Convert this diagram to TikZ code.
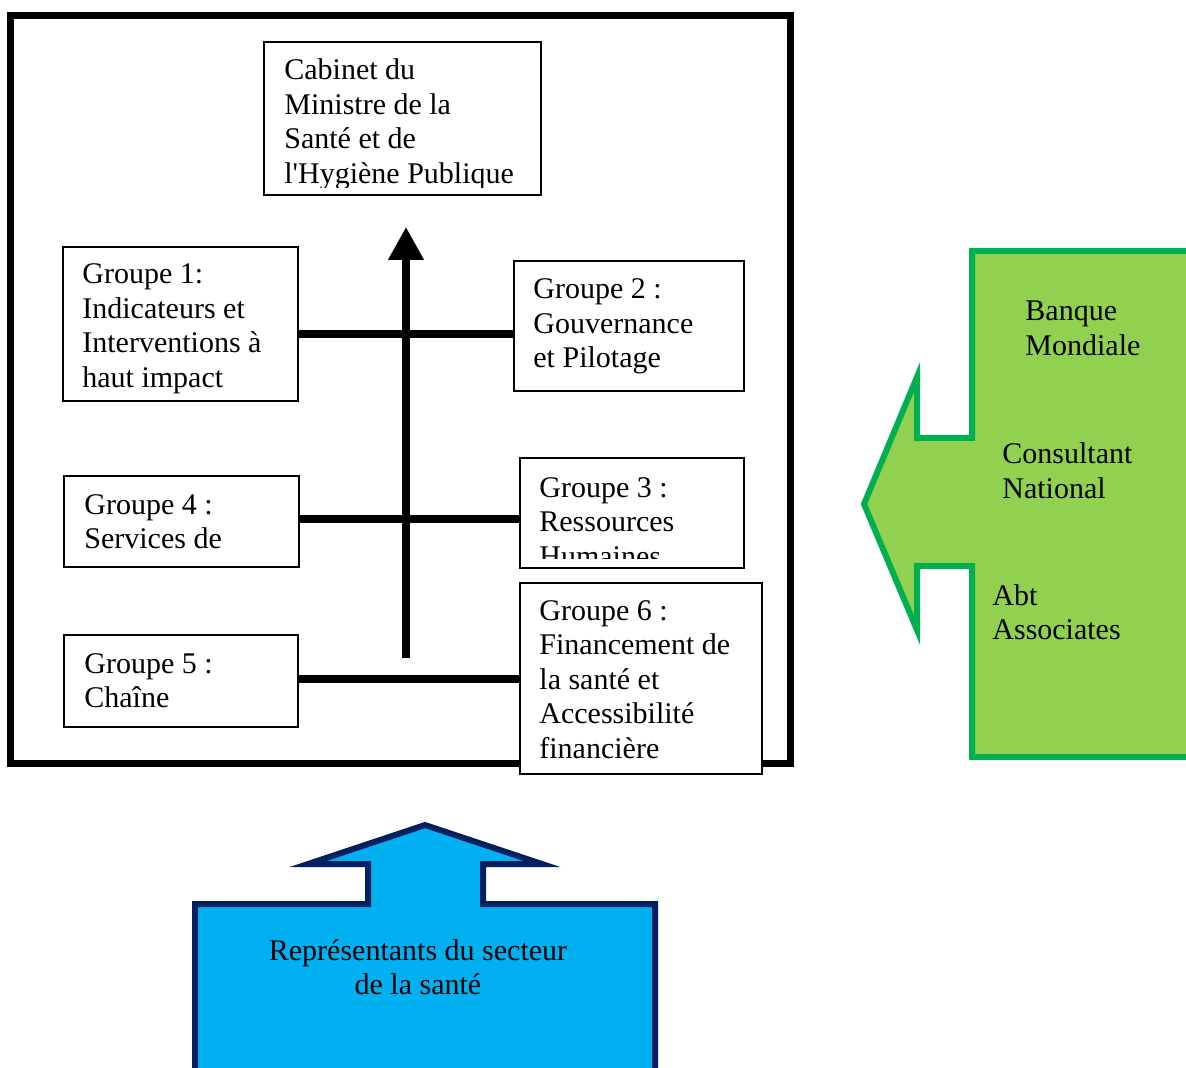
\documentclass[tikz,border=0pt]{standalone}
\usepackage{fontspec}
\setmainfont{Liberation Serif}
\usetikzlibrary{arrows.meta}
\definecolor{greenfill}{HTML}{92D050}
\definecolor{greenline}{HTML}{00B050}
\definecolor{bluefill}{HTML}{00B0F0}
\definecolor{blueline}{HTML}{002060}
\tikzset{
  grpbox/.style={draw=black, fill=white, line width=1pt, rectangle, inner sep=0pt},
  txt/.style={font=\fontsize{15}{17.25}\selectfont, align=left, inner sep=0pt, anchor=base west},
  conn/.style={line width=3.75pt},
  frame/.style={line width=3.5pt},
  calloutline/.style={line width=3pt, line join=miter, miter limit=10}
}
\begin{document}
\begin{tikzpicture}[x=0.5pt,y=-0.5pt]
\useasboundingbox (0,0) rectangle (1186,1068);

% outer frame
\draw[frame] (10,16) rectangle (790,763.5);

% green arrow callout
\draw[calloutline, fill=greenfill, draw=greenline]
  (1210,251) -- (972,251) -- (972,438) -- (917,438) -- (917,377) -- (864,504)
  -- (917,630) -- (917,566) -- (972,566) -- (972,757) -- (1210,757);

% blue arrow callout
\draw[calloutline, fill=bluefill, draw=blueline]
  (195,1085) -- (195,904) -- (368,904) -- (368,864) -- (308,864) -- (425,825)
  -- (542,864) -- (483,864) -- (483,904) -- (655,904) -- (655,1085);

% named coordinates for connectors
\coordinate (y1) at (0,334);
\coordinate (y2) at (0,519);
\coordinate (y3) at (0,679);
\coordinate (abot) at (406,658);
\coordinate (atop) at (406,227);

% boxes
\node[grpbox, minimum width=138.5pt, minimum height=76.5pt] (cab) at (402.5,118.5) {};
\node[grpbox, minimum width=117.5pt, minimum height=77pt] (g1) at (180.5,324) {};
\node[grpbox, minimum width=115pt, minimum height=65pt] (g2) at (629,326) {};
\node[grpbox, minimum width=117.5pt, minimum height=45.5pt] (g4) at (181.5,521.5) {};
\node[grpbox, minimum width=112pt, minimum height=55pt] (g3) at (632,513) {};
\node[grpbox, minimum width=117pt, minimum height=46pt] (g5) at (181,681) {};
\node[grpbox, minimum width=121pt, minimum height=95.5pt] (g6) at (641,678.5) {};

% connectors
\draw[conn] (g1.east |- y1) -- (g2.west |- y1);
\draw[conn] (g4.east |- y2) -- (g3.west |- y2);
\draw[conn] (g5.east |- y3) -- (g6.west |- y3);
\draw[conn, -{Triangle[width=17pt,length=16.5pt]}] (abot) -- (atop);

% texts (anchored at the baseline of their last line)
\begin{scope}
\clip (264,42) rectangle (541,188);
\node[txt] (cabt) at (284,183.5) {Cabinet du\\Ministre de la\\Santé et de\\l\textquotesingle Hygiène Publique};
\end{scope}
\node[txt] (g1t) at (82,387.5) {Groupe 1:\\Indicateurs et\\Interventions à\\haut impact};
\node[txt] (g2t) at (533,368) {Groupe 2 :\\Gouvernance\\et Pilotage};
\node[txt] (g4t) at (84,548.5) {Groupe 4 :\\Services de};
\begin{scope}
\clip (520,458) rectangle (744,558);
\node[txt] (g3t) at (539,566) {Groupe 3 :\\Ressources\\Humaines};
\end{scope}
\node[txt] (g5t) at (84,707.5) {Groupe 5 :\\Chaîne};
\node[txt] (g6t) at (539,758) {Groupe 6 :\\Financement de\\la santé et\\Accessibilité\\financière};

\node[txt] (bm) at (1025,355.5) {Banque\\Mondiale};
\node[txt] (cn) at (1002,498.5) {Consultant\\National};
\node[txt] (abt) at (992,639.5) {Abt\\Associates};

\node[txt, align=center, anchor=base] (rep) at (418,994.5) {Représentants du secteur\\de la santé};
\end{tikzpicture}
\end{document}
